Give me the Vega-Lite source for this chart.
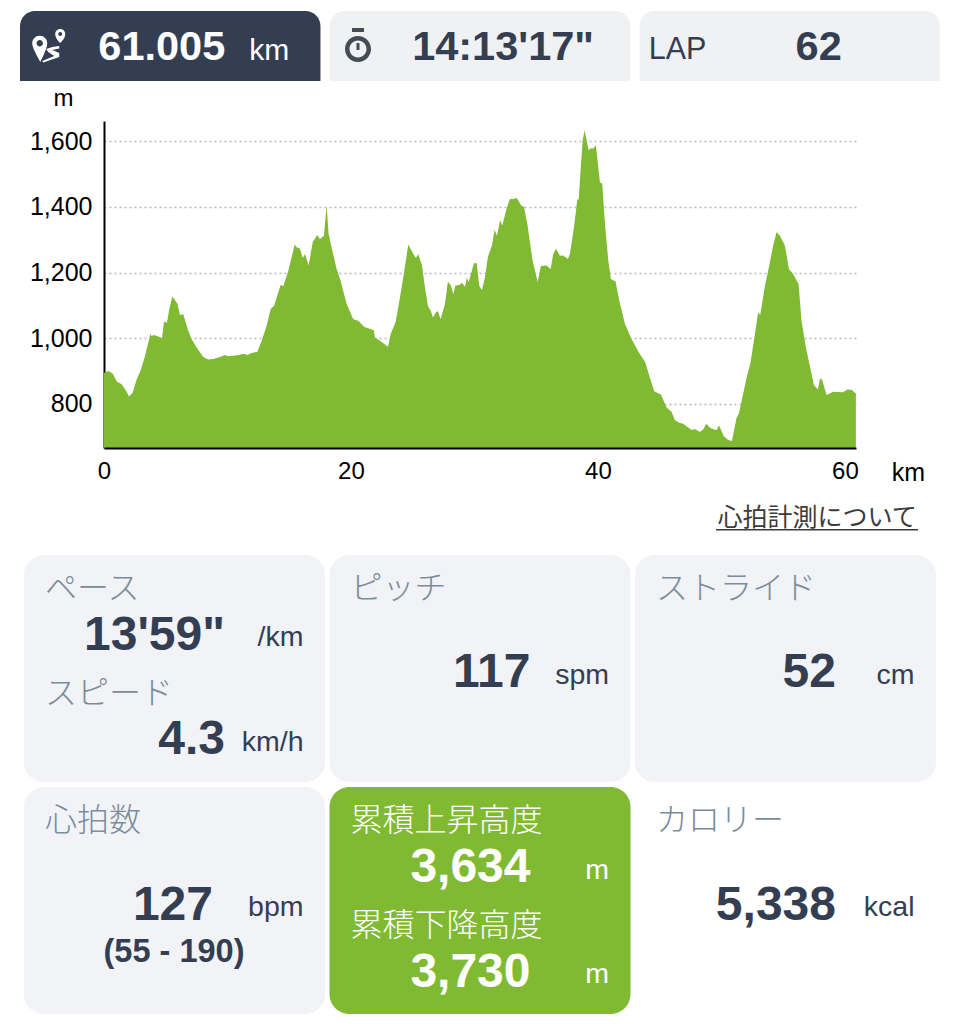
{"$schema":"https://vega.github.io/schema/vega-lite/v6.json","autosize":"none","width":752,"height":327,"padding":{"left":104,"top":121,"right":105,"bottom":576},"background":"#ffffff","config":{"view":{"stroke":null},"text":{"font":"Liberation Sans"}},"datasets":{"elev":[{"km":0,"m":895},{"km":0.35,"m":900},{"km":0.7,"m":893},{"km":1.03,"m":868},{"km":1.43,"m":860},{"km":1.78,"m":841},{"km":2.02,"m":823},{"km":2.32,"m":834},{"km":2.65,"m":875},{"km":2.97,"m":902},{"km":3.32,"m":946},{"km":3.75,"m":1012},{"km":3.86,"m":1007},{"km":4.05,"m":1010},{"km":4.4,"m":1005},{"km":4.7,"m":1000},{"km":4.86,"m":1051},{"km":5.1,"m":1047},{"km":5.29,"m":1089},{"km":5.53,"m":1127},{"km":5.94,"m":1106},{"km":6.15,"m":1071},{"km":6.42,"m":1073},{"km":6.83,"m":1022},{"km":7.1,"m":997},{"km":7.5,"m":972},{"km":8.04,"m":943},{"km":8.45,"m":935},{"km":8.85,"m":937},{"km":9.39,"m":943},{"km":9.8,"m":949},{"km":10.07,"m":945},{"km":10.47,"m":947},{"km":10.88,"m":949},{"km":11.34,"m":953},{"km":11.61,"m":949},{"km":11.96,"m":955},{"km":12.42,"m":959},{"km":12.77,"m":992},{"km":13.17,"m":1038},{"km":13.5,"m":1089},{"km":13.77,"m":1099},{"km":14.31,"m":1163},{"km":14.52,"m":1158},{"km":14.93,"m":1205},{"km":15.44,"m":1285},{"km":15.6,"m":1277},{"km":15.87,"m":1272},{"km":16.09,"m":1244},{"km":16.28,"m":1256},{"km":16.57,"m":1221},{"km":16.9,"m":1292},{"km":17.27,"m":1314},{"km":17.49,"m":1302},{"km":17.81,"m":1312},{"km":18.03,"m":1404},{"km":18.19,"m":1317},{"km":18.43,"m":1277},{"km":18.84,"m":1211},{"km":19.16,"m":1175},{"km":19.65,"m":1104},{"km":20.19,"m":1058},{"km":20.59,"m":1053},{"km":21.05,"m":1035},{"km":21.86,"m":1024},{"km":21.94,"m":1002},{"km":22.35,"m":992},{"km":23,"m":974},{"km":23.21,"m":1012},{"km":23.62,"m":1050},{"km":23.97,"m":1124},{"km":24.32,"m":1205},{"km":24.64,"m":1285},{"km":25.05,"m":1256},{"km":25.26,"m":1244},{"km":25.45,"m":1256},{"km":25.75,"m":1221},{"km":25.99,"m":1155},{"km":26.23,"m":1099},{"km":26.48,"m":1081},{"km":26.64,"m":1063},{"km":26.88,"m":1078},{"km":27.04,"m":1083},{"km":27.26,"m":1058},{"km":27.61,"m":1104},{"km":27.85,"m":1173},{"km":28.1,"m":1160},{"km":28.29,"m":1134},{"km":28.45,"m":1160},{"km":28.83,"m":1163},{"km":28.99,"m":1169},{"km":29.23,"m":1157},{"km":29.39,"m":1185},{"km":29.53,"m":1170},{"km":29.96,"m":1228},{"km":30.18,"m":1229},{"km":30.39,"m":1160},{"km":30.61,"m":1147},{"km":30.85,"m":1185},{"km":31.09,"m":1248},{"km":31.42,"m":1282},{"km":31.63,"m":1330},{"km":31.82,"m":1312},{"km":32.09,"m":1360},{"km":32.25,"m":1343},{"km":32.6,"m":1394},{"km":32.87,"m":1424},{"km":33.14,"m":1424},{"km":33.42,"m":1427},{"km":33.82,"m":1402},{"km":34.01,"m":1401},{"km":34.28,"m":1348},{"km":34.71,"m":1236},{"km":35.12,"m":1171},{"km":35.38,"m":1220},{"km":35.84,"m":1221},{"km":36.17,"m":1211},{"km":36.38,"m":1256},{"km":36.6,"m":1272},{"km":36.92,"m":1251},{"km":37.19,"m":1252},{"km":37.57,"m":1241},{"km":37.73,"m":1256},{"km":38.06,"m":1338},{"km":38.33,"m":1421},{"km":38.44,"m":1423},{"km":38.76,"m":1602},{"km":38.92,"m":1633},{"km":39.25,"m":1572},{"km":39.41,"m":1578},{"km":39.62,"m":1577},{"km":39.84,"m":1587},{"km":40.16,"m":1475},{"km":40.35,"m":1470},{"km":40.57,"m":1348},{"km":40.84,"m":1236},{"km":41.05,"m":1180},{"km":41.43,"m":1173},{"km":41.73,"m":1114},{"km":42.19,"m":1043},{"km":42.73,"m":997},{"km":43.4,"m":951},{"km":43.81,"m":929},{"km":44.21,"m":880},{"km":44.56,"m":839},{"km":45.1,"m":829},{"km":45.56,"m":789},{"km":45.96,"m":776},{"km":46.23,"m":751},{"km":46.58,"m":743},{"km":46.91,"m":740},{"km":47.31,"m":728},{"km":47.59,"m":721},{"km":47.85,"m":724},{"km":48.26,"m":715},{"km":48.53,"m":723},{"km":48.77,"m":740},{"km":49.13,"m":726},{"km":49.61,"m":720},{"km":49.8,"m":735},{"km":50.2,"m":702},{"km":50.55,"m":690},{"km":50.85,"m":687},{"km":51.23,"m":758},{"km":51.42,"m":771},{"km":52.04,"m":880},{"km":52.36,"m":926},{"km":52.71,"m":1012},{"km":52.98,"m":1080},{"km":53.14,"m":1070},{"km":53.55,"m":1165},{"km":53.79,"m":1205},{"km":54.19,"m":1282},{"km":54.47,"m":1323},{"km":54.74,"m":1312},{"km":55.14,"m":1282},{"km":55.47,"m":1211},{"km":55.82,"m":1195},{"km":56.25,"m":1165},{"km":56.49,"m":1053},{"km":56.84,"m":972},{"km":57.22,"m":906},{"km":57.49,"m":858},{"km":57.81,"m":845},{"km":58,"m":878},{"km":58.16,"m":873},{"km":58.52,"m":827},{"km":59.05,"m":837},{"km":59.86,"m":836},{"km":60.19,"m":844},{"km":60.54,"m":843},{"km":60.89,"m":832}],"tabs":[{"tab":"distance","state":"on"},{"tab":"time","state":"off"},{"tab":"lap","state":"off"}],"cards":[{"col":"a","row":"r1","kind":"plain"},{"col":"b","row":"r1","kind":"plain"},{"col":"c","row":"r1","kind":"plain"},{"col":"a","row":"r2","kind":"plain"},{"col":"b","row":"r2","kind":"active"},{"col":"c","row":"r2","kind":"none"}],"labelsTop":[{"col":"a","row":"r1","t":"ペース","on":"no"},{"col":"b","row":"r1","t":"ピッチ","on":"no"},{"col":"c","row":"r1","t":"ストライド","on":"no"},{"col":"a","row":"r2","t":"心拍数","on":"no"},{"col":"b","row":"r2","t":"累積上昇高度","on":"yes"},{"col":"c","row":"r2","t":"カロリー","on":"no"}],"labelsLow":[{"col":"a","row":"r1","t":"スピード","on":"no"},{"col":"b","row":"r2","t":"累積下降高度","on":"yes"}],"valuesUp":[{"col":"a","row":"r1","t":"13'59\"","u":"/km","on":"no"},{"col":"b","row":"r2","t":"3,634","u":"m","on":"yes"}],"valuesMid":[{"col":"b","row":"r1","t":"117","u":"spm","on":"no"},{"col":"c","row":"r1","t":"52","u":"cm","on":"no"},{"col":"c","row":"r2","t":"5,338","u":"kcal","on":"no"}],"valuesLow":[{"col":"a","row":"r1","t":"4.3","u":"km/h","on":"no"},{"col":"b","row":"r2","t":"3,730","u":"m","on":"yes"}],"hr":[{"col":"a","row":"r2","t":"127","u":"bpm","on":"no","range":"(55 - 190)"}],"note":[{"n":"note","t":"心拍計測について"}]},"layer":[{"data":{"name":"elev"},"layer":[{"mark":{"type":"area","color":"#80ba33","clip":true,"interpolate":"linear"},"encoding":{"x":{"field":"km","type":"quantitative","scale":{"domain":[0,60.9],"nice":false,"zero":false},"axis":{"values":[0,20,40,60],"grid":false,"ticks":false,"domainColor":"#000000","domainWidth":2,"labelFont":"Liberation Sans","labelFontSize":24,"labelColor":"#000000","labelPadding":11,"labelFlush":false,"title":"km","titleFont":"Liberation Sans","titleFontSize":25,"titleFontWeight":"normal","titleColor":"#000000","titleX":804,"titleY":12,"titleAnchor":"middle","zindex":1}},"y":{"field":"m","type":"quantitative","scale":{"domain":[666,1661],"nice":false,"zero":false},"axis":{"values":[800,1000,1200,1400,1600],"format":",d","grid":true,"gridColor":"#b9b9b9","gridDash":[2,3],"gridWidth":1.5,"ticks":false,"domainColor":"#000000","domainWidth":2,"labelFont":"Liberation Sans","labelFontSize":25,"labelColor":"#000000","labelPadding":12,"title":"m","titleFont":"Liberation Sans","titleFontSize":24,"titleFontWeight":"normal","titleColor":"#000000","titleAngle":0,"titleX":-41,"titleY":-11,"titleAlign":"center"}}}}]},{"encoding":{"x":{"field":"tab","type":"nominal","sort":null,"scale":{"type":"band","domain":["distance","time","lap"],"range":[-84,836],"paddingInner":0.03,"paddingOuter":0},"axis":null},"y":{"datum":"header","type":"nominal","scale":{"type":"band","domain":["header"],"range":[-110,-40],"paddingInner":0,"paddingOuter":0},"axis":null}},"layer":[{"data":{"name":"tabs"},"mark":{"type":"rect","cornerRadiusTopLeft":15,"cornerRadiusTopRight":15},"encoding":{"color":{"field":"state","type":"nominal","scale":{"domain":["on","off"],"range":["#343e52","#f0f1f3"]},"legend":null}}},{"data":{"values":[{"tab":"distance","t":"61.005"}]},"mark":{"type":"text","font":"Liberation Sans","fontWeight":"bold","fontSize":41.5,"align":"right","baseline":"alphabetic","dx":55,"dy":14,"color":"#ffffff"},"encoding":{"text":{"field":"t"}}},{"data":{"values":[{"tab":"distance","t":"km"}]},"mark":{"type":"text","font":"Liberation Sans","fontSize":30,"align":"right","baseline":"alphabetic","dx":119,"dy":14,"color":"#ffffff"},"encoding":{"text":{"field":"t"}}},{"data":{"values":[{"tab":"time","t":"14:13'17\""}]},"mark":{"type":"text","font":"Liberation Sans","fontWeight":"bold","fontSize":41.5,"align":"right","baseline":"alphabetic","dx":114,"dy":14,"color":"#343e52"},"encoding":{"text":{"field":"t"}}},{"data":{"values":[{"tab":"lap","t":"LAP"}]},"mark":{"type":"text","font":"Liberation Sans","fontSize":30.5,"align":"left","baseline":"alphabetic","dx":-141,"dy":13,"color":"#343e52"},"encoding":{"text":{"field":"t"}}},{"data":{"values":[{"tab":"lap","t":"62"}]},"mark":{"type":"text","font":"Liberation Sans","fontWeight":"bold","fontSize":41.5,"align":"right","baseline":"alphabetic","dx":52,"dy":14,"color":"#343e52"},"encoding":{"text":{"field":"t"}}},{"data":{"values":[{"tab":"distance"}]},"mark":{"type":"point","filled":true,"opacity":1,"size":4,"color":"#ffffff","xOffset":-123,"yOffset":0,"shape":"M-15,-2.7A7.5,7.5 0 1,1 0,-2.7C0,2 -4,10 -7,16C-10,10 -15,2 -15,-2.7ZM-7.5,-5.9A3.2,3.2 0 1,0 -7.5,0.5A3.2,3.2 0 1,0 -7.5,-5.9ZM8,-12A5,5 0 1,1 18,-12C18,-8 15,-5 13,-3C11,-5 8,-8 8,-12ZM13,-14A2,2 0 1,0 13,-10A2,2 0 1,0 13,-14ZM5,1L12,0L12,2.5L5,4L12,7L12,11L-4,16.5L-5,15L7,10L1,6L-1,3Z"}},{"data":{"values":[{"tab":"time"}]},"mark":{"type":"point","filled":true,"opacity":1,"size":4,"color":"#444b55","xOffset":-122,"yOffset":3,"shape":"M0,-13A13,13 0 1,1 0,13A13,13 0 1,1 0,-13ZM0,-8.5A8.5,8.5 0 1,0 0,8.5A8.5,8.5 0 1,0 0,-8.5ZM-6,-21H6V-17H-6ZM-1.5,-6H1.5V1H-1.5Z"}}]},{"encoding":{"x":{"field":"col","type":"nominal","sort":null,"scale":{"type":"band","domain":["a","b","c"],"range":[-80,832],"paddingInner":0.0147,"paddingOuter":0},"axis":null},"y":{"field":"row","type":"nominal","sort":null,"scale":{"type":"band","domain":["r1","r2"],"range":[434,893],"paddingInner":0.0216,"paddingOuter":0},"axis":null}},"layer":[{"data":{"name":"cards"},"mark":{"type":"rect","cornerRadius":20},"encoding":{"color":{"field":"kind","type":"nominal","scale":{"domain":["plain","active","none"],"range":["#f1f3f6","#80ba33","#ffffff"]},"legend":null}}},{"data":{"name":"labelsTop"},"mark":{"type":"text","font":"Noto Sans CJK JP","fontWeight":300,"fontSize":32,"align":"left","baseline":"alphabetic","dx":-129.5,"dy":-69.5},"encoding":{"text":{"field":"t"},"color":{"condition":{"test":"datum.on==='yes'","value":"#ffffff"},"value":"#7b8c9d"}}},{"data":{"name":"labelsLow"},"mark":{"type":"text","font":"Noto Sans CJK JP","fontWeight":300,"fontSize":32,"align":"left","baseline":"alphabetic","dx":-129.5,"dy":35.5},"encoding":{"text":{"field":"t"},"color":{"condition":{"test":"datum.on==='yes'","value":"#ffffff"},"value":"#7b8c9d"}}},{"data":{"name":"valuesUp"},"mark":{"type":"text","font":"Liberation Sans","fontWeight":"bold","fontSize":48,"align":"right","baseline":"alphabetic","dx":50.5,"dy":-18.5},"encoding":{"text":{"field":"t"},"color":{"condition":{"test":"datum.on==='yes'","value":"#ffffff"},"value":"#343e52"}}},{"data":{"name":"valuesUp"},"mark":{"type":"text","font":"Liberation Sans","fontSize":28.5,"align":"right","baseline":"alphabetic","dx":129,"dy":-22},"encoding":{"text":{"field":"u"},"color":{"condition":{"test":"datum.on==='yes'","value":"#ffffff"},"value":"#343e52"}}},{"data":{"name":"valuesMid"},"mark":{"type":"text","font":"Liberation Sans","fontWeight":"bold","fontSize":48,"align":"right","baseline":"alphabetic","dx":50.5,"dy":19},"encoding":{"text":{"field":"t"},"color":{"condition":{"test":"datum.on==='yes'","value":"#ffffff"},"value":"#343e52"}}},{"data":{"name":"valuesMid"},"mark":{"type":"text","font":"Liberation Sans","fontSize":28.5,"align":"right","baseline":"alphabetic","dx":129,"dy":15.5},"encoding":{"text":{"field":"u"},"color":{"condition":{"test":"datum.on==='yes'","value":"#ffffff"},"value":"#343e52"}}},{"data":{"name":"valuesLow"},"mark":{"type":"text","font":"Liberation Sans","fontWeight":"bold","fontSize":48,"align":"right","baseline":"alphabetic","dx":50.5,"dy":86},"encoding":{"text":{"field":"t"},"color":{"condition":{"test":"datum.on==='yes'","value":"#ffffff"},"value":"#343e52"}}},{"data":{"name":"valuesLow"},"mark":{"type":"text","font":"Liberation Sans","fontSize":28.5,"align":"right","baseline":"alphabetic","dx":129,"dy":82.5},"encoding":{"text":{"field":"u"},"color":{"condition":{"test":"datum.on==='yes'","value":"#ffffff"},"value":"#343e52"}}},{"data":{"name":"hr"},"mark":{"type":"text","font":"Liberation Sans","fontWeight":"bold","fontSize":48,"align":"right","baseline":"alphabetic","dx":38.5,"dy":19,"color":"#343e52"},"encoding":{"text":{"field":"t"}}},{"data":{"name":"hr"},"mark":{"type":"text","font":"Liberation Sans","fontSize":28.5,"align":"right","baseline":"alphabetic","dx":129,"dy":15.5,"color":"#343e52"},"encoding":{"text":{"field":"u"}}},{"data":{"name":"hr"},"mark":{"type":"text","font":"Liberation Sans","fontWeight":"bold","fontSize":32.5,"align":"center","baseline":"alphabetic","dx":-0.5,"dy":61.5,"color":"#343e52"},"encoding":{"text":{"field":"range"}}}]},{"data":{"name":"note"},"encoding":{"x":{"field":"n","type":"nominal","scale":{"type":"band","domain":["note"],"range":[612,814],"paddingInner":0,"paddingOuter":0},"axis":null},"y":{"field":"n","type":"nominal","scale":{"type":"band","domain":["note"],"range":[408,409.5],"paddingInner":0,"paddingOuter":0},"axis":null}},"layer":[{"mark":{"type":"rect","color":"#3c3c3c"}},{"mark":{"type":"text","font":"Noto Sans CJK JP","fontSize":25,"align":"center","baseline":"alphabetic","dy":-3.5,"color":"#3c3c3c"},"encoding":{"text":{"field":"t"}}}]}],"resolve":{"scale":{"x":"independent","y":"independent","color":"independent"},"axis":{"x":"independent","y":"independent"}}}
